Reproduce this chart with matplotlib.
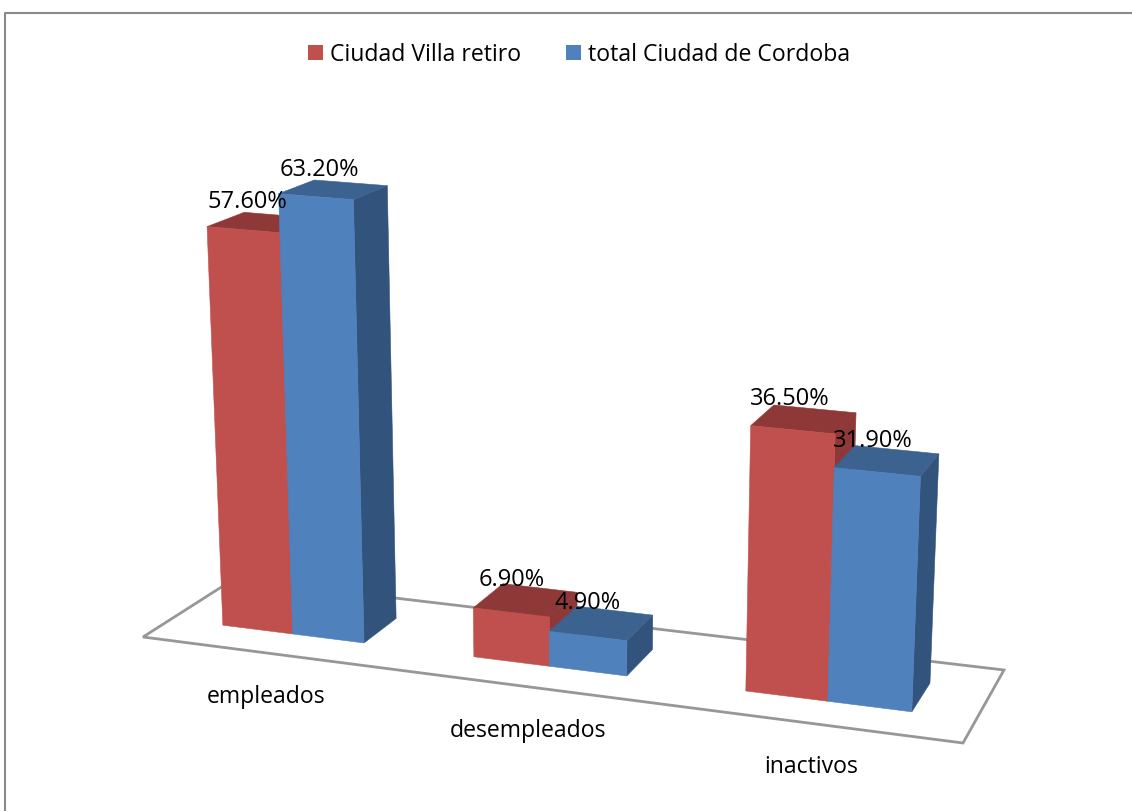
import numpy as np
import matplotlib
matplotlib.use("Agg")
import matplotlib.pyplot as plt
from matplotlib.patches import Polygon, Rectangle

categories = ["empleados", "desempleados", "inactivos"]
series_names = ["Ciudad Villa retiro", "total Ciudad de Cordoba"]
villa_retiro = [57.6, 6.9, 36.5]
total_cordoba = [63.2, 4.9, 31.9]

# pixel corners of the floor: front-left, front-right, back-right, back-left
floor_corners = np.array([[143, 638], [963, 744], [1004, 671], [234, 580]], dtype=float)
FRONT_COLORS = ["#C0504D", "#4F81BD"]
TOP_COLORS = ["#8E3937", "#3C6290"]
SIDE_COLORS = ["#8E3937", "#31537C"]
GROUP_WIDTH = 0.572  # share of a category slot
BAR_V = (0.30, 0.70)  # depth range of the bars on the floor
FONT = "Open Sans"
FS = 16.6
LABEL_FS = 17.0


def floor_matrix(corners):
    """Homography from the unit square (u along categories, v depth) to pixels."""
    square = [(0, 0), (1, 0), (1, 1), (0, 1)]
    rows, rhs = [], []
    for (u, v), (x, y) in zip(square, corners):
        rows.append([u, v, 1, 0, 0, 0, -u * x, -v * x])
        rows.append([0, 0, 0, u, v, 1, -u * y, -v * y])
        rhs += [x, y]
    h = np.linalg.solve(np.array(rows), np.array(rhs))
    return np.append(h, 1).reshape(3, 3)


H = floor_matrix(floor_corners)


def project(u, v, value=0.0):
    """Floor position plus a height in percent -> pixel position."""
    x, y, w = H @ np.array([u, v, 1.0])
    x, y = x / w, y / w
    height = value * (2.835 - 0.00016 * x + 0.00658 * y)
    return x + (x - 580) / 9000 * height, y - height


def draw_bar(ax, u0, u1, value, i):
    v0, v1 = BAR_V
    front = [project(u0, v0), project(u1, v0), project(u1, v0, value), project(u0, v0, value)]
    side = [project(u1, v0), project(u1, v1), project(u1, v1, value), project(u1, v0, value)]
    top = [project(u0, v0, value), project(u1, v0, value), project(u1, v1, value), project(u0, v1, value)]
    ax.add_patch(Polygon(side, facecolor=SIDE_COLORS[i], edgecolor=SIDE_COLORS[i], lw=0.4))
    ax.add_patch(Polygon(top, facecolor=TOP_COLORS[i], edgecolor=TOP_COLORS[i], lw=0.4))
    ax.add_patch(Polygon(front, facecolor=FRONT_COLORS[i], edgecolor=FRONT_COLORS[i], lw=0.4))
    return np.mean(top, axis=0)


fig = plt.figure(figsize=(11.32, 8.12), dpi=100)
ax = fig.add_axes([0, 0, 1, 1])
ax.set_xlim(0, 1132)
ax.set_ylim(812, 0)
ax.axis("off")

# chart frame, only left and top are inside the picture
ax.plot([5, 5, 1132], [812, 14, 14], color="#8A8A8A", lw=1.5)

ax.add_patch(Polygon(floor_corners, closed=True, facecolor="white", edgecolor="#979797", lw=2.0))

n = len(categories)
labels = []
for c in range(n):
    center = (c + 0.5) / n
    bar_w = GROUP_WIDTH / n / 2
    for i, values in enumerate([villa_retiro, total_cordoba]):
        u0 = center - bar_w + i * bar_w
        mid = draw_bar(ax, u0, u0 + bar_w, values[c], i)
        labels.append((mid, values[c]))
    x, y = project(center, 0)
    ax.text(x, y + 43, categories[c], ha="center", va="center", fontsize=FS, family=FONT, color="black")

# data labels go last, they sit on top of the bars
for (x, y), value in labels:
    ax.text(x - 14, y - 21, f"{value:.2f}%", ha="center", va="center", fontsize=LABEL_FS, family=FONT, color="black")

# legend
for x, name, color in zip([308, 566], series_names, FRONT_COLORS):
    ax.add_patch(Rectangle((x, 46), 15, 15, facecolor=color, edgecolor="none"))
    ax.text(x + 22, 55, name, ha="left", va="center", fontsize=FS, family=FONT, color="black")

fig.savefig("out.png", dpi=100)
